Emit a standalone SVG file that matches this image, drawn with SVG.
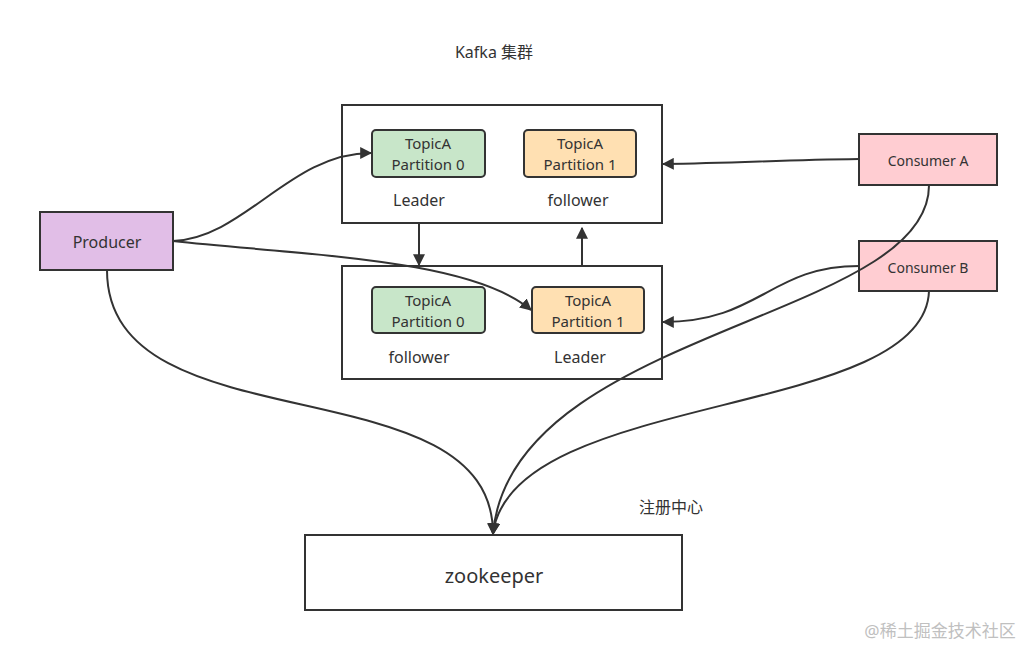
<svg xmlns="http://www.w3.org/2000/svg" width="1026" height="646" viewBox="0 0 1026 646">
<style>
text{font-family:"Noto Sans","Noto Sans CJK SC",sans-serif;fill:#333;text-anchor:middle;dominant-baseline:central}
.box{fill:#fff;stroke:#333;stroke-width:2}
.g{fill:#c8e6c9;stroke:#333;stroke-width:2}
.o{fill:#ffe0b2;stroke:#333;stroke-width:2}
.c{stroke:#333;stroke-width:2;fill:none;marker-end:url(#ah)}
.t{font-size:16px}
.p{font-size:15px}
</style>
<defs>
<marker id="ah" viewBox="0 0 10 10" refX="9" refY="5" markerWidth="6" markerHeight="6" orient="auto" markerUnits="strokeWidth">
<path d="M0,0 L10,5 L0,10 Z" fill="#333"/>
</marker>
</defs>
<rect width="1026" height="646" fill="#fff"/>
<text x="494" y="52" class="t">Kafka 集群</text>
<g id="broker1">
<rect class="box" x="342" y="105" width="320" height="118"/>
<rect class="g" x="372" y="130" width="113" height="47" rx="4"/>
<text x="428" y="143" class="p">TopicA</text>
<text x="428" y="164" class="p">Partition 0</text>
<rect class="o" x="524" y="130" width="112" height="47" rx="4"/>
<text x="580" y="143" class="p">TopicA</text>
<text x="580" y="164" class="p">Partition 1</text>
<text x="419" y="200" class="t">Leader</text>
<text x="578" y="200" class="t">follower</text>
</g>
<g id="broker2">
<rect class="box" x="342" y="266" width="320" height="113"/>
<rect class="g" x="372" y="287" width="113" height="46" rx="4"/>
<text x="428" y="300" class="p">TopicA</text>
<text x="428" y="321" class="p">Partition 0</text>
<rect class="o" x="532" y="287" width="112" height="46" rx="4"/>
<text x="588" y="300" class="p">TopicA</text>
<text x="588" y="321" class="p">Partition 1</text>
<text x="419" y="357" class="t">follower</text>
<text x="580" y="357" class="t">Leader</text>
</g>
<g id="producer">
<rect x="40" y="212" width="133" height="58" fill="#e1bee7" stroke="#333" stroke-width="2"/>
<text x="107" y="242" class="t">Producer</text>
</g>
<g id="consumerA">
<rect x="859" y="134" width="138" height="51" fill="#ffcdd2" stroke="#333" stroke-width="2"/>
<text x="928" y="160" font-size="14">Consumer A</text>
</g>
<g id="consumerB">
<rect x="859" y="241" width="138" height="50" fill="#ffcdd2" stroke="#333" stroke-width="2"/>
<text x="928" y="267" font-size="14">Consumer B</text>
</g>
<g id="zookeeper">
<rect class="box" x="305" y="535" width="377" height="75"/>
<text x="494" y="575" font-size="20">zookeeper</text>
</g>
<text x="671" y="507" class="t">注册中心</text>
<text x="940" y="630" font-size="17" style="fill:#c0c0c0">@稀土掘金技术社区</text>
<g id="connectors">
<path class="c" d="M173,241 C245,238 290,153 371,153"/>
<path class="c" d="M173,241 C300,255 470,258 531,310"/>
<path class="c" d="M419,223 L419,265"/>
<path class="c" d="M582,266 L582,228"/>
<path class="c" d="M859,159 C780,160 740,163 663,164"/>
<path class="c" d="M859,266 C770,266 760,322 663,322"/>
<path class="c" d="M107,270 C107,450 493,360 493,534"/>
<path class="c" d="M929,185 C930,320 510,330 493,534"/>
<path class="c" d="M929,291 C925,420 510,390 493,534"/>
</g>
</svg>
